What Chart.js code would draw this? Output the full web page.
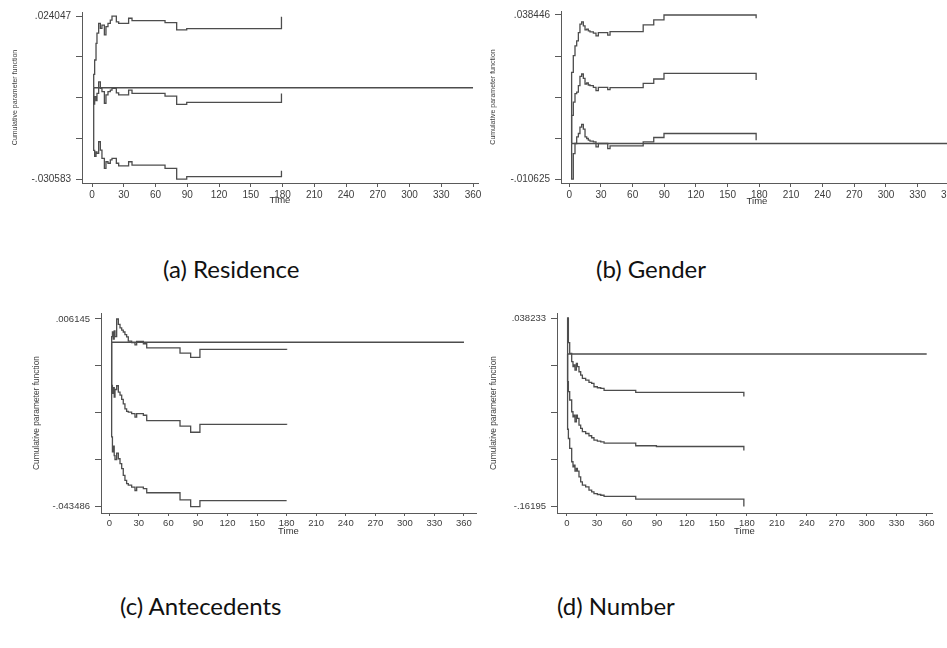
<!DOCTYPE html>
<html>
<head>
<meta charset="utf-8">
<script src="https://cdn.jsdelivr.net/npm/chart.js@4.4.1/dist/chart.umd.min.js"></script>
<style>
  html, body { margin: 0; padding: 0; background: #fff; overflow: hidden; }
  #page { position: relative; width: 947px; height: 648px; overflow: hidden; background: #fff; }
  canvas { position: absolute; }
  .cap { position: absolute; font-family: Lato, "Open Sans", sans-serif; font-size: 24px; line-height: 1; color: #111; white-space: nowrap; }
</style>
</head>
<body>
<div id="page">
  <canvas id="chartA" width="490" height="215" style="left:0px;top:0px"></canvas>
  <canvas id="chartB" width="490" height="215" style="left:480px;top:0px"></canvas>
  <canvas id="chartC" width="490" height="240" style="left:0px;top:300px"></canvas>
  <canvas id="chartD" width="467" height="240" style="left:480px;top:300px"></canvas>
  <div class="cap" style="left:163px;top:257px">(a) Residence</div>
  <div class="cap" style="left:596px;top:257px">(b) Gender</div>
  <div class="cap" style="left:120px;top:594px">(c) Antecedents</div>
  <div class="cap" style="left:557px;top:594px">(d) Number</div>
</div>
<script>
// time axis, shared by all four panels
const xTickValues = [0, 30, 60, 90, 120, 150, 180, 210, 240, 270, 300, 330, 360];

// (a) Residence
const resTime  = [1.6, 1.6, 2.5, 3.8, 4.7, 6.3, 7.9, 9.4, 11.7, 13.2, 15.1, 17.3, 18.9, 23, 25.2, 34.6, 37.8, 69, 80, 89.5, 179];
const resUpper = [0, 0.0045, 0.0093, 0.0149, 0.0183, 0.0216, 0.0199, 0.0210, 0.0177, 0.0205, 0.0216, 0.0227, 0.0240, 0.0221, 0.0216, 0.0233, 0.0225, 0.0218, 0.0194, 0.0198, 0.0238];
const resEst   = [0, -0.0055, -0.0030, -0.0043, -0.0019, 0.0020, -0.0002, -0.0013, -0.0052, -0.0024, -0.0013, -0.0008, -0.0002, -0.0017, -0.0024, -0.0008, -0.0019, -0.0028, -0.0056, -0.0049, -0.0019];
const resLower = [0, -0.0210, -0.0230, -0.0215, -0.0220, -0.0181, -0.0209, -0.0237, -0.0270, -0.0248, -0.0253, -0.0242, -0.0237, -0.0253, -0.0262, -0.0248, -0.0259, -0.0270, -0.0306, -0.0298, -0.0278];
const resZeroT = [1.6, 360];
const resYTicks  = [-0.030583, -0.0169255, -0.003268, 0.0103895, 0.024047];
const resYLabels = ['-.030583', '', '', '', '.024047'];

// (b) Gender
const genTime  = [2.2, 2.2, 3.8, 5.4, 7, 8.6, 10.1, 11.7, 13.3, 14.9, 16.5, 18, 19.6, 22.8, 25.3, 27.5, 36.4, 38.6, 70, 80, 89.7, 177];
const genUpper = [0, 0.0213, 0.0263, 0.0292, 0.0307, 0.0332, 0.0357, 0.0364, 0.0352, 0.0340, 0.0342, 0.0337, 0.0334, 0.0330, 0.0322, 0.0332, 0.0324, 0.0335, 0.0355, 0.0370, 0.038446, 0.0375];
const genEst   = [0, 0.0084, 0.0124, 0.0149, 0.0154, 0.0173, 0.0201, 0.0208, 0.0195, 0.0178, 0.0181, 0.0175, 0.0173, 0.0168, 0.0158, 0.0168, 0.0161, 0.0167, 0.0180, 0.0193, 0.0210, 0.0190];
const genLower = [0, -0.010625, -0.0030, 0.0000, 0.0020, 0.0030, 0.0049, 0.0057, 0.0043, 0.0020, 0.0015, 0.0010, 0.0007, 0.0005, -0.0010, 0.0000, -0.0015, -0.0007, 0.0005, 0.0018, 0.0030, 0.0010];
const genZeroT = [2.2, 360];
const genYTicks  = [-0.010625, 0.00164275, 0.0139105, 0.02617825, 0.038446];
const genYLabels = ['-.010625', '', '', '', '.038446'];

// (c) Antecedents
const antTime  = [2.4, 2.4, 3.2, 4.1, 5.0, 5.8, 7.5, 9.2, 10.9, 12.6, 14.2, 15.9, 17.6, 19.3, 22.7, 26.1, 27.8, 34.6, 38, 71.8, 82.6, 92, 180];
const antUpper = [0, 0.0015, 0.0027, 0.0008, 0.0030, 0.0015, 0.006145, 0.0047, 0.0038, 0.0032, 0.0027, 0.0020, 0.0014, 0.0003, -0.0001, -0.0007, 0.0002, -0.0004, -0.0015, -0.0029, -0.0040, -0.0019, -0.0020];
const antEst   = [0, -0.0114, -0.0135, -0.0120, -0.0145, -0.0125, -0.0115, -0.0132, -0.0140, -0.0151, -0.0163, -0.0176, -0.0183, -0.0185, -0.0189, -0.0198, -0.0189, -0.0193, -0.0207, -0.0222, -0.0238, -0.0217, -0.0218];
const antLower = [0, -0.0250, -0.0290, -0.0275, -0.0300, -0.0310, -0.0293, -0.0308, -0.0321, -0.0334, -0.0352, -0.0365, -0.0374, -0.0378, -0.0383, -0.0392, -0.0383, -0.0387, -0.0398, -0.0417, -0.043486, -0.0419, -0.0419];
const antZeroT = [2.4, 360];
const antYTicks  = [-0.043486, -0.03107825, -0.0186705, -0.00626275, 0.006145];
const antYLabels = ['-.043486', '', '', '', '.006145'];

// (d) Number
const numTime  = [0.6, 0.6, 1.4, 2.7, 4.7, 6, 7, 8, 9.4, 10.4, 12, 13.7, 15.4, 18.7, 22, 24.7, 27, 30.4, 33.8, 37.1, 68.8, 89.5, 177];
const numUpper = [0, 0.038233, 0.0120, 0.0006, -0.0082, -0.0135, -0.0117, -0.0171, -0.0100, -0.0135, -0.0189, -0.0224, -0.0260, -0.0277, -0.0302, -0.0313, -0.0348, -0.0359, -0.0366, -0.0387, -0.0409, -0.0409, -0.0451];
const numEst   = [0, -0.0295, -0.0401, -0.0489, -0.0614, -0.0667, -0.0649, -0.0720, -0.0649, -0.0685, -0.0755, -0.0791, -0.0826, -0.0845, -0.0869, -0.0890, -0.0915, -0.0925, -0.0933, -0.0947, -0.0975, -0.0983, -0.1025];
const numLower = [0, -0.0800, -0.0898, -0.1004, -0.1145, -0.1199, -0.1180, -0.1244, -0.1217, -0.1244, -0.1305, -0.1358, -0.1394, -0.1412, -0.1447, -0.1465, -0.1483, -0.1493, -0.1501, -0.1514, -0.1542, -0.1542, -0.16195];
const numZeroT = [0.6, 360];
const numYTicks  = [-0.16195, -0.11190425, -0.0618585, -0.01181275, 0.038233];
const numYLabels = ['-.16195', '', '', '', '.038233'];

const zeroV = [0, 0];

const FONT = '"Liberation Sans", Arial, sans-serif';
const LINE = '#4d4d4d';
const AXIS = '#5a5a5a';
const TEXT = '#3c3c3c';

function toPoints(times, values) {
    return times.map((t, i) => ({ x: t, y: values[i] }));
}

function buildChart(id, p) {
    const curve = (vals, times, stepped) => ({
        data: toPoints(times, vals),
        stepped: stepped,
        borderColor: LINE,
        borderWidth: 1.3,
        pointRadius: 0,
        fill: false
    });

    new Chart(document.getElementById(id), {
        type: 'line',
        data: {
            datasets: [
                curve(p.upper, p.time, true),
                curve(p.est, p.time, true),
                curve(p.lower, p.time, true),
                curve(zeroV, p.zeroT, false)
            ]
        },
        options: {
            responsive: false,
            animation: false,
            devicePixelRatio: 1,
            layout: { padding: p.padding },
            plugins: { legend: { display: false }, tooltip: { enabled: false } },
            scales: {
                x: {
                    type: 'linear',
                    min: p.xMin,
                    max: p.xMax,
                    bounds: 'data',
                    afterBuildTicks: s => { s.ticks = xTickValues.map(v => ({ value: v })); },
                    afterFit: s => { s.height = p.xAxisHeight; },
                    ticks: {
                        autoSkip: false, maxRotation: 0, padding: p.xTickPad, color: TEXT,
                        font: { family: FONT, size: p.tickSize },
                        callback: v => String(v)
                    },
                    grid: { drawOnChartArea: false, drawTicks: true, tickLength: p.xTickLen, tickColor: AXIS },
                    border: { display: true, color: AXIS, width: 1 },
                    title: {
                        display: true, text: 'Time', color: '#333',
                        font: { family: FONT, size: 9.5 },
                        padding: { top: 0, bottom: p.timePad }
                    }
                },
                y: {
                    type: 'linear',
                    min: p.yMin,
                    max: p.yMax,
                    bounds: 'data',
                    afterBuildTicks: s => { s.ticks = p.yTicks.map(v => ({ value: v })); },
                    afterFit: s => { s.width = p.yAxisWidth; },
                    ticks: {
                        autoSkip: false, padding: 5, color: TEXT,
                        font: { family: FONT, size: p.tickSize },
                        callback: (v, i) => p.yLabels[i]
                    },
                    grid: { drawOnChartArea: false, drawTicks: true, tickLength: 6, tickColor: AXIS },
                    border: { display: true, color: AXIS, width: 1 },
                    title: {
                        display: true, text: 'Cumulative parameter function', color: TEXT,
                        font: { family: FONT, size: p.yTitleSize },
                        padding: { top: p.yTitlePad, bottom: 0 }
                    }
                }
            }
        }
    });
}

buildChart('chartA', {
    time: resTime, upper: resUpper, est: resEst, lower: resLower, zeroT: resZeroT,
    yTicks: resYTicks, yLabels: resYLabels,
    xMin: -9.45, xMax: 364.7, yMin: -0.03192, yMax: 0.02539,
    padding: { left: 0, top: 12, right: 12, bottom: 0 },
    yAxisWidth: 82, xAxisHeight: 32, tickSize: 10, xTickLen: 4, xTickPad: 2,
    timePad: 8.6, yTitleSize: 7, yTitlePad: 10.8
});

buildChart('chartB', {
    time: genTime, upper: genUpper, est: genEst, lower: genLower, zeroT: genZeroT,
    yTicks: genYTicks, yLabels: genYLabels,
    xMin: -7.86, xMax: 363.5, yMin: -0.01181, yMax: 0.03964,
    padding: { left: 0, top: 10, right: 17, bottom: 0 },
    yAxisWidth: 81, xAxisHeight: 32, tickSize: 10, xTickLen: 4, xTickPad: 2,
    timePad: 8.0, yTitleSize: 7, yTitlePad: 9.1
});

buildChart('chartC', {
    time: antTime, upper: antUpper, est: antEst, lower: antLower, zeroT: antZeroT,
    yTicks: antYTicks, yLabels: antYLabels,
    xMin: -8.4, xMax: 372.2, yMin: -0.04515, yMax: 0.00773,
    padding: { left: 0, top: 13, right: 14, bottom: 0 },
    yAxisWidth: 101, xAxisHeight: 27, tickSize: 9.5, xTickLen: 3, xTickPad: 1.5,
    timePad: 3.0, yTitleSize: 8.4, yTitlePad: 32
});

buildChart('chartD', {
    time: numTime, upper: numUpper, est: numEst, lower: numLower, zeroT: numZeroT,
    yTicks: numYTicks, yLabels: numYLabels,
    xMin: -10.0, xMax: 365.3, yMin: -0.16897, yMax: 0.04355,
    padding: { left: 0, top: 13, right: 15, bottom: 0 },
    yAxisWidth: 77, xAxisHeight: 27, tickSize: 9.5, xTickLen: 3, xTickPad: 1.5,
    timePad: 3.0, yTitleSize: 8.4, yTitlePad: 8.3
});
</script>
</body>
</html>
